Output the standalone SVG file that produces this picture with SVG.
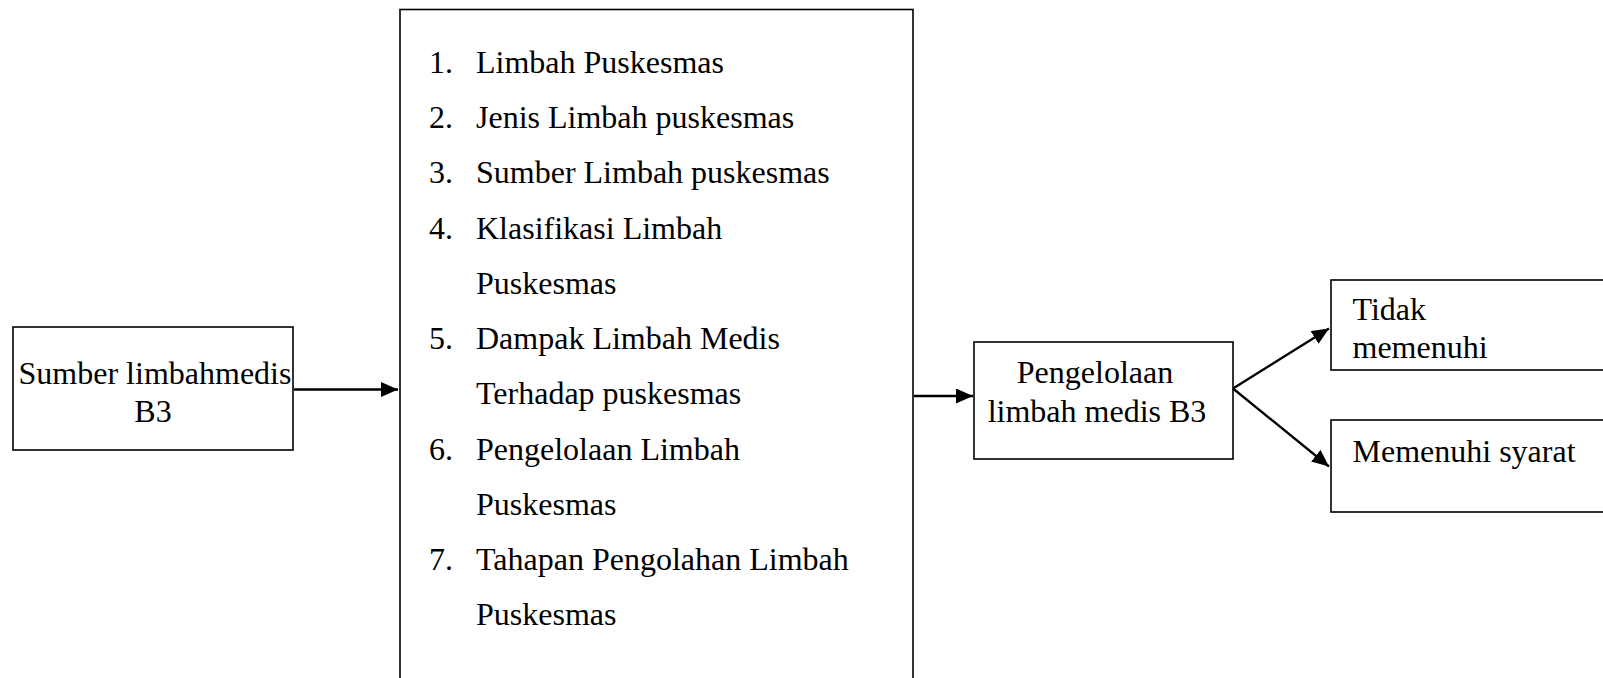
<svg xmlns="http://www.w3.org/2000/svg" width="1603" height="678" viewBox="0 0 1603 678">
<style>
  .box { fill: #fff; stroke: #000; stroke-width: 1.6; }
  .t { font-family: "Liberation Serif", "Times New Roman", serif; font-size: 32px; fill: #000; }
  .c { text-anchor: middle; }
  .conn { stroke: #000; stroke-width: 2.4; fill: none; }
</style>
<defs>
  <marker id="arr" markerUnits="userSpaceOnUse" markerWidth="18" markerHeight="15" refX="17" refY="7.5" orient="auto">
    <path d="M0,0 L17,7.5 L0,15 z" fill="#000"/>
  </marker>
</defs>
<rect width="1603" height="678" fill="#fff"/>

<g id="node-sumber">
  <rect class="box" x="13" y="327" width="280" height="123"/>
  <text class="t c" x="155" y="384">Sumber limbahmedis</text>
  <text class="t c" x="153" y="422">B3</text>
</g>

<g id="node-list">
  <rect class="box" x="400" y="9.5" width="513" height="700"/>
  <text class="t" x="429" y="72.5">1.</text><text class="t" x="476" y="72.5">Limbah Puskesmas</text>
  <text class="t" x="429" y="128">2.</text><text class="t" x="476" y="128">Jenis Limbah puskesmas</text>
  <text class="t" x="429" y="183.3">3.</text><text class="t" x="476" y="183.3">Sumber Limbah puskesmas</text>
  <text class="t" x="429" y="238.5">4.</text><text class="t" x="476" y="238.5">Klasifikasi Limbah</text>
  <text class="t" x="476" y="293.5">Puskesmas</text>
  <text class="t" x="429" y="348.5">5.</text><text class="t" x="476" y="348.5">Dampak Limbah Medis</text>
  <text class="t" x="476" y="404">Terhadap puskesmas</text>
  <text class="t" x="429" y="459.5">6.</text><text class="t" x="476" y="459.5">Pengelolaan Limbah</text>
  <text class="t" x="476" y="514.7">Puskesmas</text>
  <text class="t" x="429" y="570">7.</text><text class="t" x="476" y="570">Tahapan Pengolahan Limbah</text>
  <text class="t" x="476" y="625">Puskesmas</text>
</g>

<g id="node-pengelolaan">
  <rect class="box" x="974" y="342" width="259" height="117"/>
  <text class="t c" x="1095" y="383">Pengelolaan</text>
  <text class="t c" x="1097" y="421.5">limbah medis B3</text>
</g>

<g id="node-tidak">
  <rect class="box" x="1331" y="280" width="290" height="90"/>
  <text class="t" x="1352.5" y="320">Tidak</text>
  <text class="t" x="1352.5" y="358">memenuhi</text>
</g>

<g id="node-memenuhi">
  <rect class="box" x="1331" y="420" width="290" height="92"/>
  <text class="t" x="1352.5" y="461.5">Memenuhi syarat</text>
</g>

<g id="connectors">
  <line class="conn" x1="294" y1="389.5" x2="398" y2="389.5" marker-end="url(#arr)"/>
  <line class="conn" x1="914" y1="396" x2="973" y2="396" marker-end="url(#arr)"/>
  <line class="conn" x1="1233" y1="388.5" x2="1329" y2="328.5" marker-end="url(#arr)"/>
  <line class="conn" x1="1233" y1="388.5" x2="1329" y2="466.5" marker-end="url(#arr)"/>
</g>
</svg>
